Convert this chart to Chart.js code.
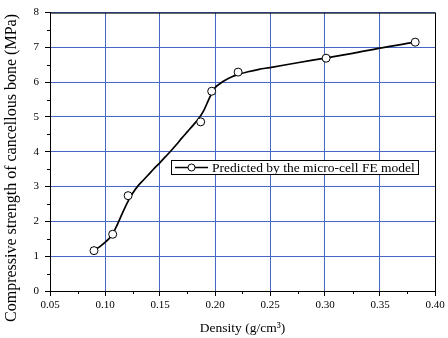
<!DOCTYPE html>
<html>
<head>
<meta charset="utf-8">
<script src="https://cdn.jsdelivr.net/npm/chart.js@4"></script>
<style>
  html, body { margin: 0; padding: 0; background: #fff; }
  #wrap { width: 448px; height: 338px; }
</style>
</head>
<body>
<div id="wrap"><canvas id="chart" width="448" height="338"></canvas></div>
<script>
/* ---------- DATA ---------- */
// measured points (open circles)
const densityPts  = [0.090, 0.107, 0.121, 0.187, 0.197, 0.221, 0.301, 0.382];
const strengthPts = [1.16, 1.63, 2.74, 4.86, 5.74, 6.29, 6.69, 7.15];

// smooth curve
const curveX = [0.090, 0.095, 0.100, 0.105, 0.110, 0.115, 0.120, 0.125, 0.130, 0.135,
                0.140, 0.145, 0.150, 0.155, 0.160, 0.165, 0.170, 0.175, 0.180, 0.185,
                0.190, 0.195, 0.200, 0.205, 0.210, 0.215, 0.220, 0.230, 0.240, 0.250,
                0.275, 0.300, 0.325, 0.350, 0.382];
const curveY = [1.16, 1.27, 1.40, 1.55, 1.83, 2.18, 2.52, 2.80, 3.02, 3.19,
                3.36, 3.53, 3.69, 3.86, 4.03, 4.21, 4.40, 4.58, 4.76, 4.95,
                5.20, 5.55, 5.84, 5.97, 6.07, 6.15, 6.21, 6.30, 6.37, 6.42,
                6.56, 6.69, 6.83, 6.98, 7.15];

const xMinorTicks = [0.075, 0.125, 0.175, 0.225, 0.275, 0.325, 0.375];
const yMinorTicks = [0.5, 1.5, 2.5, 3.5, 4.5, 5.5, 6.5, 7.5];

const seriesLabel = 'Predicted by the micro-cell FE model';
const xTitle = 'Density (g/cm\u00B3)';
const yTitle = 'Compressive strength of cancellous bone (MPa)';

const SERIF = '"Liberation Serif", "Times New Roman", serif';
const GRID_BLUE = '#4668c4';

/* ---------- PLUGINS ---------- */
const framePlugin = {
  id: 'frame',
  afterDatasetsDraw(chart) {
    const { ctx, chartArea: a } = chart;
    ctx.save();
    ctx.strokeStyle = '#000';
    ctx.lineWidth = 1;
    ctx.strokeRect(a.left + 0.5, a.top + 0.5, a.right - a.left, a.bottom - a.top);
    ctx.restore();
  }
};

const minorTickPlugin = {
  id: 'minorTicks',
  afterDraw(chart) {
    const { ctx, chartArea: a, scales } = chart;
    ctx.save();
    ctx.strokeStyle = '#000';
    ctx.lineWidth = 1;
    ctx.beginPath();
    xMinorTicks.forEach(v => {
      const px = Math.round(scales.x.getPixelForValue(v)) + 0.5;
      ctx.moveTo(px, a.bottom);
      ctx.lineTo(px, a.bottom + 3);
    });
    yMinorTicks.forEach(v => {
      const py = Math.round(scales.y.getPixelForValue(v)) + 0.5;
      ctx.moveTo(a.left - 3, py);
      ctx.lineTo(a.left, py);
    });
    ctx.stroke();
    ctx.restore();
  }
};

const titlesPlugin = {
  id: 'axisTitles',
  afterDraw(chart) {
    const { ctx, chartArea: a } = chart;
    ctx.save();
    ctx.fillStyle = '#000';
    ctx.textAlign = 'center';
    ctx.textBaseline = 'middle';
    ctx.font = '13.5px ' + SERIF;
    ctx.fillText(xTitle, (a.left + a.right) / 2, 328);
    ctx.font = '16px ' + SERIF;
    ctx.translate(12, 168);
    ctx.rotate(-Math.PI / 2);
    ctx.fillText(yTitle, 0, 0);
    ctx.restore();
  }
};

const legendPlugin = {
  id: 'boxLegend',
  afterDraw(chart) {
    const { ctx } = chart;
    const box = { x: 171.5, y: 160.5, w: 247, h: 14 };
    ctx.save();
    ctx.fillStyle = '#fff';
    ctx.fillRect(box.x, box.y, box.w, box.h);
    ctx.strokeStyle = '#000';
    ctx.lineWidth = 1;
    ctx.strokeRect(box.x, box.y, box.w, box.h);
    const cy = box.y + box.h / 2;
    ctx.lineWidth = 1.6;
    ctx.beginPath();
    ctx.moveTo(175, cy);
    ctx.lineTo(208, cy);
    ctx.stroke();
    ctx.beginPath();
    ctx.lineWidth = 1;
    ctx.arc(191.5, cy, 3.5, 0, Math.PI * 2);
    ctx.fillStyle = '#fff';
    ctx.fill();
    ctx.stroke();
    ctx.fillStyle = '#000';
    ctx.font = '13.5px ' + SERIF;
    ctx.textAlign = 'left';
    ctx.textBaseline = 'middle';
    ctx.fillText(seriesLabel, 212, cy + 0.5);
    ctx.restore();
  }
};

/* ---------- CHART ---------- */
const ctx = document.getElementById('chart');

new Chart(ctx, {
  type: 'scatter',
  data: {
    datasets: [
      {
        label: seriesLabel,
        data: densityPts.map((x, i) => ({ x: x, y: strengthPts[i] })),
        showLine: false,
        pointRadius: 4,
        pointBorderWidth: 1,
        pointBorderColor: '#000',
        pointBackgroundColor: '#fff',
        order: 0
      },
      {
        label: 'curve',
        data: curveX.map((x, i) => ({ x: x, y: curveY[i] })),
        showLine: true,
        borderColor: '#000',
        borderWidth: 1.7,
        pointRadius: 0,
        cubicInterpolationMode: 'monotone',
        order: 1
      }
    ]
  },
  options: {
    responsive: false,
    animation: false,
    devicePixelRatio: 1,
    layout: { padding: { top: 7, right: 13, left: 0, bottom: 0 } },
    plugins: {
      legend: { display: false },
      tooltip: { enabled: false }
    },
    scales: {
      x: {
        type: 'linear',
        min: 0.05, max: 0.40,
        afterFit: s => { s.height = 47; },
        afterBuildTicks: s => {
          s.ticks = [0.05, 0.10, 0.15, 0.20, 0.25, 0.30, 0.35, 0.40].map(v => ({ value: v }));
        },
        ticks: {
          color: '#000',
          padding: 3,
          maxRotation: 0,
          font: { family: SERIF, size: 11 },
          callback: v => Number(v).toFixed(2)
        },
        grid: { color: GRID_BLUE, lineWidth: 1, tickColor: '#000', tickLength: 5 },
        border: { color: '#000', width: 1 }
      },
      y: {
        type: 'linear',
        min: 0, max: 8,
        afterFit: s => { s.width = 50; },
        ticks: {
          stepSize: 1,
          color: '#000',
          padding: 6,
          font: { family: SERIF, size: 11 }
        },
        grid: { color: GRID_BLUE, lineWidth: 1, tickColor: '#000', tickLength: 5 },
        border: { color: '#000', width: 1 }
      }
    }
  },
  plugins: [framePlugin, minorTickPlugin, titlesPlugin, legendPlugin]
});
</script>
</body>
</html>
